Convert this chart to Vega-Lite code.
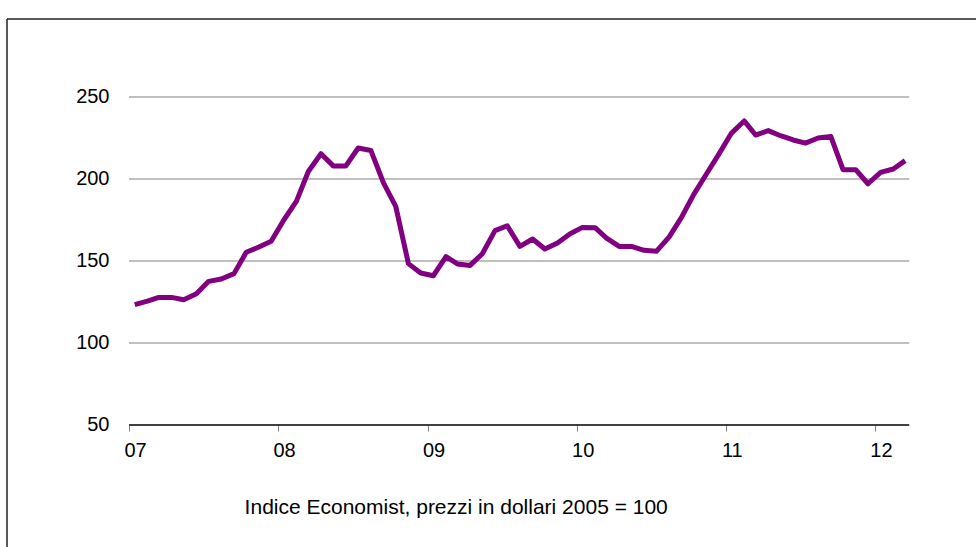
{
  "$schema": "https://vega.github.io/schema/vega-lite/v6.json",
  "autosize": "none",
  "width": 969,
  "height": 528,
  "padding": {"left": 7, "top": 19, "right": 0, "bottom": 0},
  "background": "white",
  "config": {"view": {"stroke": null}, "font": "Liberation Sans"},
  "datasets": {
    "index": [
      {"date": "2007-01-15", "value": 123.4}, {"date": "2007-02-15", "value": 125.5}, {"date": "2007-03-15", "value": 127.8},
      {"date": "2007-04-15", "value": 127.8}, {"date": "2007-05-15", "value": 126.4}, {"date": "2007-06-15", "value": 130.0},
      {"date": "2007-07-15", "value": 137.6}, {"date": "2007-08-15", "value": 139.0}, {"date": "2007-09-15", "value": 142.3},
      {"date": "2007-10-15", "value": 155.3}, {"date": "2007-11-15", "value": 158.5}, {"date": "2007-12-15", "value": 162.0},
      {"date": "2008-01-15", "value": 175.0}, {"date": "2008-02-15", "value": 186.5}, {"date": "2008-03-15", "value": 204.6},
      {"date": "2008-04-15", "value": 215.4}, {"date": "2008-05-15", "value": 208.0}, {"date": "2008-06-15", "value": 208.0},
      {"date": "2008-07-15", "value": 218.9}, {"date": "2008-08-15", "value": 217.4}, {"date": "2008-09-15", "value": 197.6},
      {"date": "2008-10-15", "value": 183.3}, {"date": "2008-11-15", "value": 148.4}, {"date": "2008-12-15", "value": 142.7},
      {"date": "2009-01-15", "value": 141.0}, {"date": "2009-02-15", "value": 152.6}, {"date": "2009-03-15", "value": 148.2},
      {"date": "2009-04-15", "value": 147.3}, {"date": "2009-05-15", "value": 154.4}, {"date": "2009-06-15", "value": 168.5},
      {"date": "2009-07-15", "value": 171.5}, {"date": "2009-08-15", "value": 158.9}, {"date": "2009-09-15", "value": 163.4},
      {"date": "2009-10-15", "value": 157.3}, {"date": "2009-11-15", "value": 161.0}, {"date": "2009-12-15", "value": 166.5},
      {"date": "2010-01-15", "value": 170.5}, {"date": "2010-02-15", "value": 170.3}, {"date": "2010-03-15", "value": 164.0},
      {"date": "2010-04-15", "value": 158.9}, {"date": "2010-05-15", "value": 158.9}, {"date": "2010-06-15", "value": 156.5},
      {"date": "2010-07-15", "value": 155.9}, {"date": "2010-08-15", "value": 164.6}, {"date": "2010-09-15", "value": 176.8},
      {"date": "2010-10-15", "value": 190.8}, {"date": "2010-11-15", "value": 203.2}, {"date": "2010-12-15", "value": 215.2},
      {"date": "2011-01-15", "value": 228.0}, {"date": "2011-02-15", "value": 235.4}, {"date": "2011-03-15", "value": 226.8},
      {"date": "2011-04-15", "value": 229.5}, {"date": "2011-05-15", "value": 226.4}, {"date": "2011-06-15", "value": 223.8},
      {"date": "2011-07-15", "value": 221.9}, {"date": "2011-08-15", "value": 225.0}, {"date": "2011-09-15", "value": 226.0},
      {"date": "2011-10-15", "value": 205.7}, {"date": "2011-11-15", "value": 205.7}, {"date": "2011-12-15", "value": 197.1},
      {"date": "2012-01-15", "value": 204.0}, {"date": "2012-02-15", "value": 206.1}, {"date": "2012-03-15", "value": 211.2}
    ],
    "grid": [{"g": 100}, {"g": 150}, {"g": 200}, {"g": 250}],
    "one": [{"k": 1}]
  },
  "layer": [
    {
      "data": {"name": "grid"},
      "mark": {"type": "rule", "color": "#808080", "strokeWidth": 1},
      "encoding": {
        "y": {"field": "g", "type": "quantitative", "scale": {"domain": [-24.39, 297.56], "nice": false, "zero": false},
          "axis": {"values": [50, 100, 150, 200, 250], "orient": "left", "offset": -102, "ticks": false, "domain": false, "grid": false,
            "labelPadding": 0, "labelFontSize": 20, "labelColor": "#000000", "labelFont": "Liberation Sans", "title": null}},
        "x": {"datum": {"year": 2007, "month": 1, "date": 1, "utc": true}, "type": "temporal",
          "scale": {"type": "utc", "domain": [{"year": 2006, "month": 3, "date": 8, "hours": 8, "utc": true}, {"year": 2012, "month": 9, "date": 4, "hours": 12, "utc": true}]},
          "axis": {"orient": "bottom", "offset": -122, "format": "%y", "grid": false, "domain": false,
            "values": [{"year": 2007, "month": 1, "date": 1, "utc": true}, {"year": 2008, "month": 1, "date": 1, "utc": true}, {"year": 2009, "month": 1, "date": 1, "utc": true}, {"year": 2010, "month": 1, "date": 1, "utc": true}, {"year": 2011, "month": 1, "date": 1, "utc": true}, {"year": 2012, "month": 1, "date": 1, "utc": true}],
            "tickSize": 6, "tickColor": "#808080", "tickWidth": 1, "labelPadding": 9, "labelOffset": 6, "labelFontSize": 20, "labelColor": "#000000", "labelFont": "Liberation Sans", "title": null}},
        "x2": {"datum": {"year": 2012, "month": 3, "date": 25, "utc": true}}
      }
    },
    {
      "data": {"name": "one"},
      "mark": {"type": "rule", "color": "#000000", "strokeWidth": 1.5},
      "encoding": {
        "y": {"datum": 50, "type": "quantitative"},
        "x": {"datum": {"year": 2007, "month": 1, "date": 1, "utc": true}, "type": "temporal"},
        "x2": {"datum": {"year": 2012, "month": 3, "date": 25, "utc": true}}
      }
    },
    {
      "data": {"name": "one"},
      "mark": {"type": "rule", "color": "#222222", "strokeWidth": 1.5},
      "encoding": {
        "y": {"datum": 297.56, "type": "quantitative"},
        "x": {"datum": {"year": 2006, "month": 3, "date": 8, "hours": 8, "utc": true}, "type": "temporal"},
        "x2": {"datum": {"year": 2012, "month": 9, "date": 4, "hours": 12, "utc": true}}
      }
    },
    {
      "data": {"name": "one"},
      "mark": {"type": "rule", "color": "#222222", "strokeWidth": 1.5},
      "encoding": {
        "x": {"datum": {"year": 2006, "month": 3, "date": 8, "hours": 8, "utc": true}, "type": "temporal"},
        "y": {"datum": 297.56, "type": "quantitative"},
        "y2": {"datum": -24.39}
      }
    },
    {
      "data": {"name": "index", "format": {"parse": {"date": "utc:'%Y-%m-%d'"}}},
      "mark": {"type": "line", "color": "#800080", "strokeWidth": 5, "strokeJoin": "round"},
      "encoding": {
        "x": {"field": "date", "type": "temporal"},
        "y": {"field": "value", "type": "quantitative"}
      }
    },
    {
      "data": {"name": "one"},
      "mark": {"type": "text", "text": "Indice Economist, prezzi in dollari 2005 = 100", "font": "Liberation Sans", "fontSize": 21, "color": "#000000", "align": "center", "baseline": "middle"},
      "encoding": {
        "x": {"datum": {"year": 2009, "month": 3, "date": 12, "utc": true}, "type": "temporal"},
        "y": {"datum": -0.6, "type": "quantitative"}
      }
    }
  ]
}
